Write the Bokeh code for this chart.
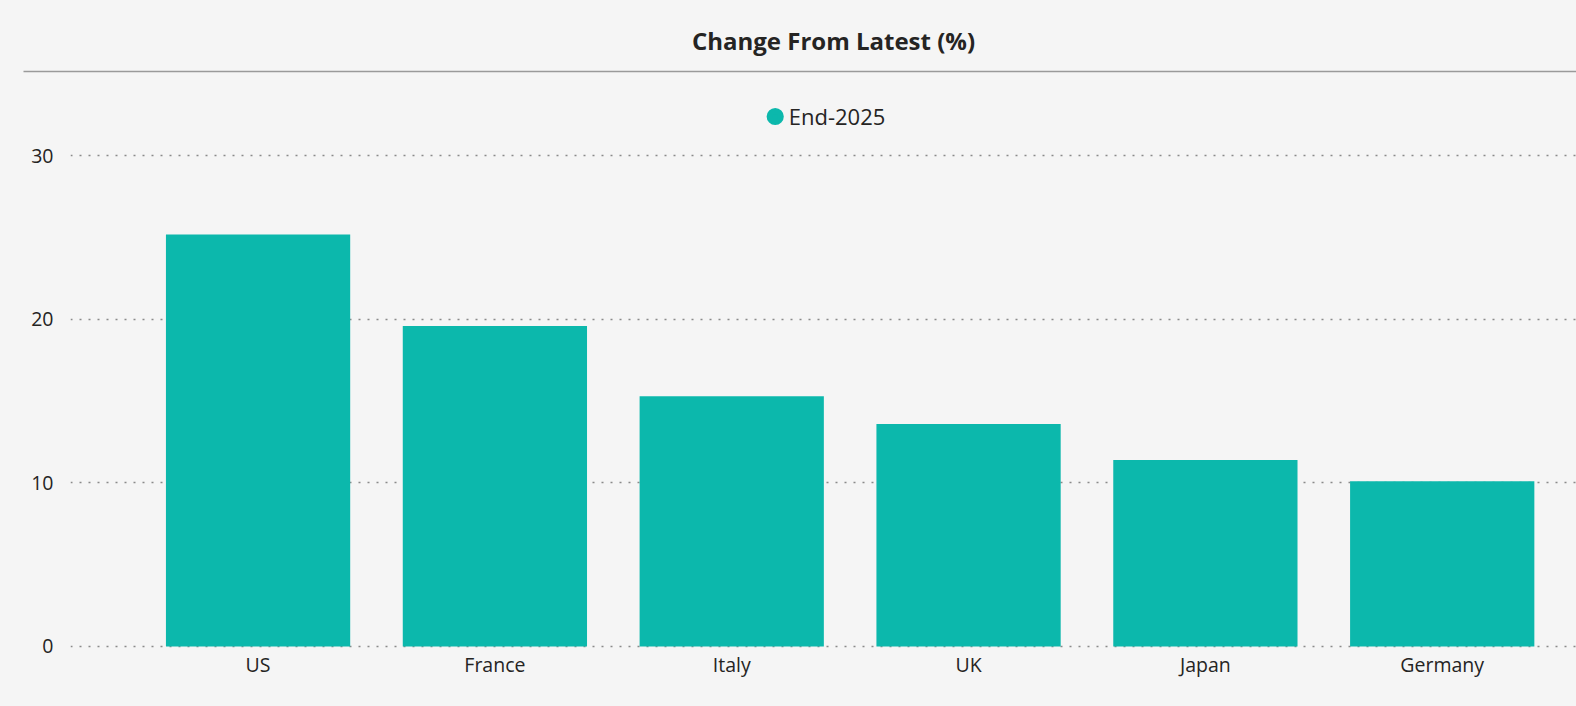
from bokeh.plotting import figure
from bokeh.models import Range1d, FixedTicker, Legend, LegendItem, ColumnDataSource
from bokeh.layouts import column, row
from bokeh.core.properties import value
from bokeh.embed import file_html
from bokeh.resources import INLINE

# ---- data ----
countries = ["US", "France", "Italy", "UK", "Japan", "Germany"]
change_pct = [25.2, 19.6, 15.3, 13.6, 11.4, 10.1]
series_name = "End-2025"
title_text = "Change From Latest (%)"
y_ticks = [0, 10, 20, 30]

BG = "#f5f5f5"
BAR = "#0cb8ac"
TXT = "#252423"
FONT = "Open Sans"
W = 1576

# ---- header (title + separator) ----
hdr = figure(width=W, height=80, output_backend="svg", toolbar_location=None,
             x_range=Range1d(0, W), y_range=Range1d(80, 0),
             x_axis_location=None, y_axis_location=None,
             min_border=0, background_fill_color=BG, border_fill_color=BG,
             outline_line_color=None)
hdr.grid.visible = False
hdr.text(x=[833], y=[40], text=[title_text], text_align="center", text_baseline="middle",
         text_font=value(FONT), text_font_style="bold", text_font_size="24px", text_color=TXT)
hdr.segment(x0=[23], y0=[71], x1=[W], y1=[71], line_color="#9a9a9a", line_width=1.5)

# ---- main chart ----
x_idx = list(range(len(countries)))
src = ColumnDataSource(dict(x=x_idx, top=change_pct, name=countries))

p = figure(width=W, height=626, output_backend="svg", toolbar_location=None,
           x_range=Range1d(-0.792, 5.567), y_range=Range1d(-0.123, 33.697),
           min_border_left=70, min_border_right=0, min_border_top=15, min_border_bottom=58,
           background_fill_color=BG, border_fill_color=BG, outline_line_color=None)

bars = p.vbar(x="x", top="top", bottom=0, width=0.778, source=src,
              fill_color=BAR, line_color=None)
dot = p.scatter(x="x", y="top", source=src, marker="circle", size=11,
                fill_color=BAR, line_color=BAR, line_width=6, visible=False)

p.xaxis.ticker = FixedTicker(ticks=x_idx)
p.xaxis.major_label_overrides = {i: c for i, c in zip(x_idx, countries)}
p.yaxis.ticker = FixedTicker(ticks=y_ticks)

for ax in (p.xaxis, p.yaxis):
    ax.axis_line_color = None
    ax.major_tick_line_color = None
    ax.minor_tick_line_color = None
    ax.major_label_text_font = FONT
    ax.major_label_text_font_size = "19.5px"
    ax.major_label_text_color = TXT
p.yaxis.major_label_standoff = 11
p.xaxis.major_label_standoff = -4

p.xgrid.visible = False
p.ygrid.ticker = FixedTicker(ticks=y_ticks)
p.ygrid.grid_line_color = "#8a8a8a"
p.ygrid.grid_line_dash = "2 7"
p.ygrid.grid_line_width = 1.5
p.ygrid.level = "underlay"

legend = Legend(items=[LegendItem(label=series_name, renderers=[dot])],
                location="top_center", orientation="horizontal",
                glyph_width=28, glyph_height=28, label_standoff=0,
                label_text_font=FONT, label_text_font_size="22px", label_text_color=TXT,
                background_fill_alpha=0, border_line_color=None,
                padding=0, margin=6)
p.add_layout(legend, "center")

layout = column(row(hdr), row(p), spacing=0, background=BG)

html = file_html(layout, INLINE)
html = html.replace("<body>", '<body style="background-color:#f5f5f5;">')
open("out.html", "w").write(html)
